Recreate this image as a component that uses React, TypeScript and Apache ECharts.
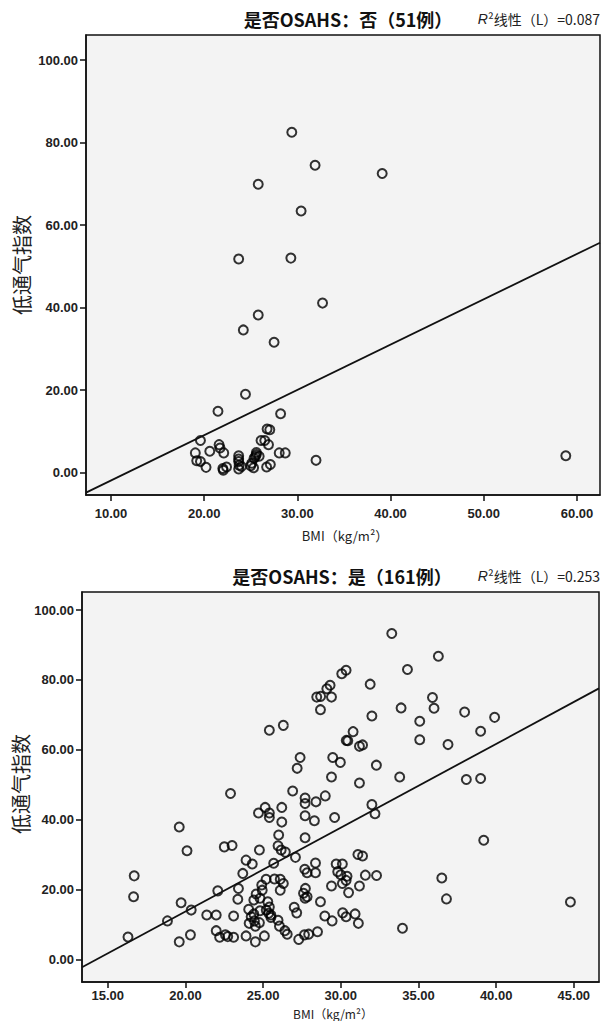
import React, { useEffect, useRef } from "react";
import * as echarts from "echarts";

// ---- Data: 是否OSAHS = 否 (51例) ----
const bmiNo = [
  29.4, 31.9, 39.1, 25.8, 30.4, 23.7, 29.3, 32.7, 25.8, 24.2, 27.5,
  24.43, 21.48, 28.2,
  19.05, 19.2, 19.6, 19.6, 20.2, 20.6, 21.6, 21.7, 22.1, 22.05, 22.4,
  23.7, 23.7, 23.7, 23.7, 23.75, 25.6, 25.6, 25.35, 25.1, 25.0,
  26.1, 26.5, 26.9, 26.75, 27.04, 28.05, 28.7, 26.7, 27.1, 32.0, 58.8,
  25.5, 24.0, 25.9, 25.3, 22.0,
];
const ahiNo = [
  82.5, 74.5, 72.5, 69.9, 63.4, 51.8, 52.0, 41.1, 38.2, 34.6, 31.6,
  19.0, 14.9, 14.3,
  4.8, 2.9, 2.7, 7.8, 1.3, 5.2, 6.8, 6.0, 4.8, 0.6, 1.4,
  4.1, 3.3, 2.7, 0.9, 1.8, 4.9, 4.4, 3.5, 2.3, 1.7,
  7.8, 7.8, 6.8, 10.6, 10.4, 4.8, 4.8, 1.4, 2.0, 3.0, 4.1,
  3.9, 1.5, 4.0, 1.2, 1.0,
];

// ---- Data: 是否OSAHS = 是 (161例) ----
const bmiYes = [
  33.28, 36.28, 34.29, 30.34, 30.06, 31.89, 29.31, 29.1, 28.45, 28.7,
  29.4, 35.9, 36.0, 33.88, 28.69, 37.97, 39.9, 32.0, 35.08, 26.3,
  25.4, 39.0, 30.79, 35.08, 30.35, 30.45, 31.2, 31.4, 36.9, 27.38,
  29.48, 29.97, 32.29, 27.19, 29.4, 33.79, 38.08, 39.0, 31.2, 26.9,
  22.9, 29.0, 27.7, 28.4, 27.7, 32.0, 32.2, 25.13, 26.2, 24.7,
  25.4, 25.4, 26.2, 27.7, 29.6, 28.3, 19.6, 26.0, 27.7, 39.2,
  22.5, 23.0, 20.1, 24.76, 25.96, 26.16, 26.43, 31.1, 31.4, 27.08,
  23.9, 24.3, 25.68, 28.37, 29.7, 30.1, 27.68, 27.83, 28.37, 23.69,
  29.8, 30.0, 30.4, 30.34, 31.58, 32.3, 36.5, 16.7, 25.19, 25.73,
  26.1, 26.3, 26.1, 30.1, 31.2, 29.4, 22.08, 23.41, 24.91, 24.94,
  24.55, 24.8, 24.4, 27.72, 27.6, 27.83, 27.7, 30.5, 16.66, 36.8,
  44.78, 23.37, 19.72, 28.69, 25.3, 25.4, 25.5, 24.07, 24.4, 24.8,
  25.2, 20.37, 21.37, 21.98, 23.1, 24.23, 24.44, 24.76, 24.5, 24.1,
  25.36, 25.5, 25.96, 26.05, 26.4, 26.55, 27.0, 27.16, 28.97, 29.44,
  30.12, 30.34, 30.92, 31.13, 18.84, 19.6, 20.32, 21.98, 22.2, 22.57,
  22.72, 23.1, 23.9, 24.5, 25.08, 27.29, 27.66, 27.93, 28.5, 16.3,
  33.97,
];
const ahiYes = [
  93.3, 86.8, 83.0, 82.8, 81.8, 78.8, 78.5, 77.5, 75.1, 75.3,
  75.1, 75.0, 71.9, 72.0, 71.5, 70.8, 69.3, 69.7, 68.2, 67.0,
  65.6, 65.3, 65.2, 62.9, 62.7, 62.6, 61.0, 61.4, 61.5, 57.8,
  57.8, 56.4, 55.6, 54.7, 52.2, 52.2, 51.5, 51.8, 50.5, 48.2,
  47.5, 46.8, 46.2, 45.1, 44.6, 44.3, 41.7, 43.5, 43.5, 41.9,
  41.9, 40.6, 39.3, 41.1, 40.6, 39.7, 37.9, 35.6, 34.8, 34.1,
  32.2, 32.6, 31.1, 31.3, 32.5, 31.3, 30.7, 30.0, 29.6, 29.2,
  28.4, 27.3, 27.5, 27.6, 27.3, 27.3, 25.8, 24.8, 24.8, 24.6,
  25.1, 24.2, 23.8, 22.6, 24.1, 24.0, 23.3, 23.9, 22.9, 23.0,
  22.9, 21.7, 19.8, 21.7, 21.0, 21.0, 19.6, 20.3, 21.3, 19.8,
  18.7, 17.5, 17.0, 20.3, 18.9, 17.9, 17.5, 19.1, 17.9, 17.3,
  16.4, 17.2, 16.2, 16.5, 16.5, 15.0, 12.7, 14.3, 13.0, 13.9,
  14.1, 14.1, 12.7, 12.7, 12.4, 12.2, 11.0, 10.5, 9.5, 10.3,
  13.2, 12.0, 11.2, 9.5, 8.2, 7.2, 14.9, 13.3, 12.4, 11.0,
  13.3, 12.2, 13.0, 10.3, 11.0, 5.0, 7.0, 8.2, 6.3, 7.0,
  6.5, 6.3, 6.7, 5.0, 6.7, 5.7, 7.0, 7.2, 7.9, 6.4,
  8.9,
];

// linear fit [intercept, slope]
const fitNo = [-12.86, 1.098];
const fitYes = [-34.3, 2.4];

// axis tick labels
const xTicksNo = [10, 20, 30, 40, 50, 60];
const xTicksYes = [15, 20, 25, 30, 35, 40, 45];
const yTicks = [0, 20, 40, 60, 80, 100];

const xRangeNo = [7.32, 62.47];
const yRangeNo = [-5.4, 106.06];
const xRangeYes = [13.34, 46.62];
const yRangeYes = [-6.5, 105.2];

const zip = (a: number[], b: number[]) => a.map((v, i) => [v, b[i]]);
const fitLine = (f: number[], r: number[]) => r.map((x) => [x, f[0] + f[1] * x]);

const CJK = '"Noto Sans CJK SC", "Liberation Sans", sans-serif';
const LAT = '"Liberation Sans", Arial, sans-serif';

export default function App() {
  const ref = useRef<HTMLDivElement>(null);
  useEffect(() => {
    document.body.style.margin = "0";
    const chart = echarts.init(ref.current!, null, { renderer: "svg" });
    const axisLine = { show: true, onZero: false, lineStyle: { color: "#111", width: 1.5 } };
    const axisTick = (vals: number[]) => ({
      show: true, inside: false, length: 6, customValues: vals,
      lineStyle: { color: "#111", width: 1.5 },
    });
    const axisLabel = (vals: number[], margin: number) => ({
      customValues: vals, margin,
      formatter: (v: number) => v.toFixed(2),
      color: "#222", fontFamily: LAT, fontWeight: "bold" as const, fontSize: 13,
    });
    const scatterStyle = {
      symbol: "circle", symbolSize: 9,
      itemStyle: { color: "rgba(0,0,0,0)", borderColor: "#000", borderWidth: 2 },
    };
    const r2 = (val: string) => ({
      text: "{i|R}²线性（L）=" + val,
      fontFamily: CJK, fontSize: 14, fill: "#222",
      rich: { i: { fontStyle: "italic", fontFamily: LAT, fontSize: 14, fill: "#222" } },
    });
    chart.setOption({
      animation: false,
      backgroundColor: "#fff",
      grid: [
        { left: 86, top: 35, width: 514, height: 460, show: true, backgroundColor: "#f3f3f3", borderColor: "#111", borderWidth: 1.5 },
        { left: 82, top: 592, width: 517, height: 390, show: true, backgroundColor: "#f3f3f3", borderColor: "#111", borderWidth: 1.5 },
      ],
      xAxis: [
        { type: "value", gridIndex: 0, min: xRangeNo[0], max: xRangeNo[1], axisLine, axisTick: axisTick(xTicksNo), axisLabel: axisLabel(xTicksNo, 12), splitLine: { show: false } },
        { type: "value", gridIndex: 1, min: xRangeYes[0], max: xRangeYes[1], axisLine, axisTick: axisTick(xTicksYes), axisLabel: axisLabel(xTicksYes, 7), splitLine: { show: false } },
      ],
      yAxis: [
        { type: "value", gridIndex: 0, min: yRangeNo[0], max: yRangeNo[1], axisLine, axisTick: axisTick(yTicks), axisLabel: axisLabel(yTicks, 8), splitLine: { show: false } },
        { type: "value", gridIndex: 1, min: yRangeYes[0], max: yRangeYes[1], axisLine, axisTick: axisTick(yTicks), axisLabel: axisLabel(yTicks, 8), splitLine: { show: false } },
      ],
      series: [
        { type: "scatter", xAxisIndex: 0, yAxisIndex: 0, data: zip(bmiNo, ahiNo), ...scatterStyle },
        { type: "line", xAxisIndex: 0, yAxisIndex: 0, data: fitLine(fitNo, xRangeNo), symbol: "none", lineStyle: { color: "#111", width: 1.8 }, clip: true },
        { type: "scatter", xAxisIndex: 1, yAxisIndex: 1, data: zip(bmiYes, ahiYes), ...scatterStyle },
        { type: "line", xAxisIndex: 1, yAxisIndex: 1, data: fitLine(fitYes, xRangeYes), symbol: "none", lineStyle: { color: "#111", width: 1.8 }, clip: true },
      ],
      graphic: [
        { type: "text", x: 348, y: 19, style: { text: "是否OSAHS：否（51例）", fontFamily: CJK, fontWeight: "bold", fontSize: 18, fill: "#111", align: "center", verticalAlign: "middle" } },
        { type: "text", x: 600, y: 19, style: { ...r2("0.087"), align: "right", verticalAlign: "middle" } },
        { type: "text", x: 342, y: 576, style: { text: "是否OSAHS：是（161例）", fontFamily: CJK, fontWeight: "bold", fontSize: 18, fill: "#111", align: "center", verticalAlign: "middle" } },
        { type: "text", x: 600, y: 576, style: { ...r2("0.253"), align: "right", verticalAlign: "middle" } },
        { type: "text", x: 21, y: 265, rotation: Math.PI / 2, style: { text: "低通气指数", fontFamily: CJK, fontSize: 20, fill: "#222", align: "center", verticalAlign: "middle" } },
        { type: "text", x: 20, y: 784, rotation: Math.PI / 2, style: { text: "低通气指数", fontFamily: CJK, fontSize: 20, fill: "#222", align: "center", verticalAlign: "middle" } },
        { type: "text", x: 345, y: 535, style: { text: "BMI（kg/m²）", fontFamily: CJK, fontSize: 13, fill: "#222", align: "center", verticalAlign: "middle" } },
        { type: "text", x: 333, y: 1013, style: { text: "BMI（kg/m²）", fontFamily: CJK, fontSize: 12, fill: "#222", align: "center", verticalAlign: "middle" } },
      ],
    });
    return () => chart.dispose();
  }, []);
  return <div ref={ref} style={{ width: 602, height: 1021 }} />;
}
